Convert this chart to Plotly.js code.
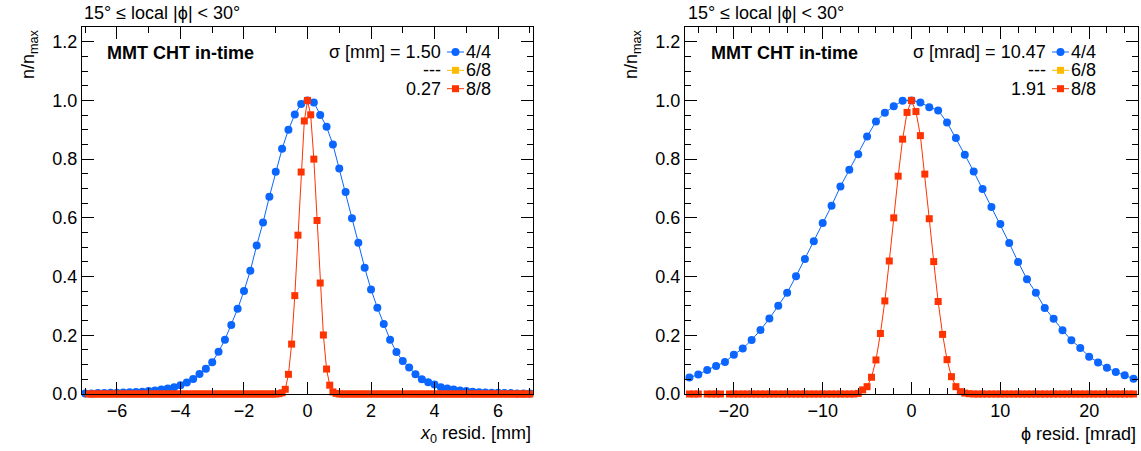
<!DOCTYPE html>
<html>
<head>
<meta charset="utf-8">
<script src="https://cdn.plot.ly/plotly-3.0.1.min.js"></script>
<style>html,body{margin:0;padding:0;background:#fff;}#chart{width:1141px;height:451px;}</style>
</head>
<body>
<div id="chart"></div>
<script>
// ---------- data ----------
const seriesNames = ["4/4", "6/8", "8/8"];
const leftSigmaLabels = ["\u03c3 [mm] = 1.50", "---", "0.27"];
const rightSigmaLabels = ["\u03c3 [mrad] = 10.47", "---", "1.91"];

// Left panel: x0 residual [mm]; 4/4 bins of 0.2 mm starting at -7.0
const leftBlueX0 = -7.0, leftBlueDx = 0.2;
const leftBlueY = [
  0.002, 0.002, 0.003, 0.003, 0.004, 0.004, 0.005, 0.006, 0.007, 0.008,
  0.010, 0.012, 0.015, 0.019, 0.023, 0.030, 0.039, 0.051, 0.068, 0.086,
  0.108, 0.144, 0.185, 0.235, 0.290, 0.351, 0.420, 0.506, 0.584, 0.672,
  0.757, 0.835, 0.900, 0.952, 0.988, 1.000, 0.993, 0.950, 0.910, 0.850,
  0.768, 0.688, 0.599, 0.515, 0.430, 0.356, 0.294, 0.238, 0.185, 0.143,
  0.112, 0.090, 0.067, 0.050, 0.040, 0.032, 0.023, 0.019, 0.015, 0.012,
  0.010, 0.008, 0.006, 0.005, 0.004, 0.004, 0.003, 0.003, 0.002, 0.002,
  0.002
];
// 8/8 bins of 0.1 mm starting at -7.0
const leftRedX0 = -7.0, leftRedDx = 0.1;
const leftRedY = [
  null,
  0, 0, 0, 0, 0, 0, 0, 0, 0, 0,
  0, 0, 0, 0, 0, 0, 0, 0, 0, 0,
  0, 0, 0, 0, 0, 0, 0, 0, 0, 0,
  0, 0, 0, 0, 0, 0, 0, 0, 0, 0,
  0, 0, 0, 0, 0, 0, 0, 0, 0, 0,
  0, 0, 0, 0, 0, 0, 0, 0, 0, 0,
  0.001, 0.004, 0.016, 0.067, 0.170, 0.335, 0.541, 0.756, 0.930,
  1.000,
  0.951, 0.800, 0.591, 0.378, 0.201, 0.085, 0.030, 0.007, 0.002,
  0, 0, 0, 0, 0, 0, 0, 0, 0, 0,
  0, 0, 0, 0, 0, 0, 0, 0, 0, 0,
  0, 0, 0, 0, 0, 0, 0, 0, 0, 0,
  0, 0, 0, 0, 0, 0, 0, 0, 0, 0,
  0, 0, 0, 0, 0, 0, 0, 0, 0, 0,
  0, 0, 0, 0, 0, 0, 0, 0, 0, 0,
  0
];

// Right panel: phi residual [mrad]; 4/4 bins of 1 mrad starting at -25
const rightBlueX0 = -25, rightBlueDx = 1;
const rightBlueY = [
  0.056, 0.066, 0.082, 0.095, 0.109, 0.134, 0.155, 0.184, 0.218, 0.257,
  0.301, 0.345, 0.401, 0.460, 0.520, 0.582, 0.641, 0.707, 0.764, 0.817,
  0.877, 0.928, 0.958, 0.980, 0.999, 1.000, 0.993, 0.977, 0.966, 0.925,
  0.872, 0.815, 0.758, 0.698, 0.637, 0.579, 0.514, 0.450, 0.391, 0.345,
  0.293, 0.256, 0.217, 0.183, 0.157, 0.127, 0.107, 0.089, 0.075, 0.064,
  0.052
];
// 8/8 bins of 0.5 mrad starting at -25
const rightRedX0 = -25, rightRedDx = 0.5;
const rightRedY = [
  0, 0, 0, null, 0, 0, 0, 0, null,
  0, 0, 0, 0, 0, 0, 0, 0, 0, 0,
  0, 0, 0, 0, 0, 0, 0, 0, 0, 0,
  0, 0, 0, 0, 0, 0, 0, 0, 0,
  0.002, 0.014, 0.025, 0.057, 0.116, 0.206, 0.317, 0.453, 0.600, 0.742, 0.868, 0.959,
  1.000,
  0.962, 0.880, 0.749, 0.597, 0.451, 0.315, 0.203, 0.117, 0.059, 0.025, 0.008, 0.003, 0.001,
  0, 0, 0, 0, 0, 0, 0, 0, 0, 0,
  0, 0, 0, 0, 0, 0, 0, 0, 0, 0,
  0, 0, 0, 0, 0, 0, 0, 0, 0, 0,
  0, 0, 0, 0, 0, 0, 0
];

const yTickLabels = ["0.0", "0.2", "0.4", "0.6", "0.8", "1.0", "1.2"];
const yTickVals = [0, 0.2, 0.4, 0.6, 0.8, 1.0, 1.2];

// ---------- styling ----------
const BLUE = "#0a66ff", YELLOW = "#ffbb00", RED = "#ff3300";
const FONT = "Liberation Sans, Arial, Helvetica, sans-serif";
const W = 1141, H = 451;
const px = v => v / W, py = v => 1 - v / H;

function trace(xa, ya, x0, dx, y, color, symbol, size) {
  return {
    type: "scatter", mode: "lines+markers", xaxis: xa, yaxis: ya,
    x0: x0, dx: dx, y: y, cliponaxis: false, showlegend: false,
    line: {color: color, width: 1},
    marker: {color: color, symbol: symbol, size: size, line: {width: 0}}
  };
}

const data = [
  trace("x", "y", leftBlueX0, leftBlueDx, leftBlueY, BLUE, "circle", 8),
  trace("x", "y", leftRedX0, leftRedDx, leftRedY, RED, "square", 7),
  trace("x2", "y2", rightBlueX0, rightBlueDx, rightBlueY, BLUE, "circle", 8),
  trace("x2", "y2", rightRedX0, rightRedDx, rightRedY, RED, "square", 7)
];

function xaxis(domain, range, dtick, minorDtick, anchor) {
  return {
    domain: domain, range: range, anchor: anchor, autorange: false,
    showgrid: false, zeroline: false, showline: true, linecolor: "#000", linewidth: 1,
    mirror: "ticks", ticks: "inside", ticklen: 12, tickwidth: 1, tickcolor: "#000",
    tick0: 0, dtick: dtick,
    minor: {ticks: "inside", ticklen: 6, tickwidth: 1, tickcolor: "#000", dtick: minorDtick, tick0: 0, showgrid: false},
    tickfont: {family: FONT, size: 18, color: "#000"}
  };
}
function yaxis(domain, anchor) {
  return {
    domain: domain, range: [0, 1.25], anchor: anchor, autorange: false,
    showgrid: false, zeroline: false, showline: true, linecolor: "#000", linewidth: 1,
    mirror: "ticks", ticks: "inside", ticklen: 12, tickwidth: 1, tickcolor: "#000",
    tickmode: "array", tickvals: yTickVals, ticktext: yTickLabels,
    minor: {ticks: "inside", ticklen: 6, tickwidth: 1, tickcolor: "#000", dtick: 0.05, tick0: 0, showgrid: false},
    tickfont: {family: FONT, size: 18, color: "#000"}
  };
}

const yDom = [1 - 394 / H, 1 - 27 / H];
const layout = {
  width: W, height: H,
  margin: {l: 0, r: 0, t: 0, b: 0},
  paper_bgcolor: "#fff", plot_bgcolor: "#fff",
  showlegend: false,
  xaxis: xaxis([px(82), px(533)], [-7.1, 7.1], 2, 1, "y"),
  yaxis: yaxis(yDom, "x"),
  xaxis2: xaxis([px(685), px(1138)], [-25.5, 25.5], 10, 2, "y2"),
  yaxis2: yaxis(yDom, "x2"),
  annotations: [],
  shapes: []
};

const ann = (text, x, y, xanchor, opts) => Object.assign({
  text: text, xref: "paper", yref: "paper", x: px(x), y: py(y),
  xanchor: xanchor, yanchor: "middle", showarrow: false,
  font: {family: FONT, size: 18, color: "#000"}
}, opts || {});

const panels = [
  {dx: 0, sig: leftSigmaLabels, frameL: 82, xtitle: "<i>x</i><sub>0</sub> resid. [mm]", xtitleR: 533},
  {dx: 605, sig: rightSigmaLabels, frameL: 686, xtitle: "\u03d5 resid. [mrad]", xtitleR: 1138}
];
const legendColors = [BLUE, YELLOW, RED];
const legendRows = [52, 70.3, 88.7];

panels.forEach((p, k) => {
  layout.annotations.push(ann("15\u00b0 \u2264 local |\u03d5| < 30\u00b0", p.frameL, 13, "left"));
  layout.annotations.push(ann("<b>MMT CHT in-time</b>", p.frameL + 23, 53, "left"));
  layout.annotations.push(ann(p.xtitle, p.xtitleR, 434, "right"));
  layout.annotations.push(ann("n/n<sub>max</sub>", (k === 0 ? 30 : 633), 27, "center",
    {yanchor: "top", textangle: -90}));
  legendRows.forEach((ry, i) => {
    layout.annotations.push(ann(p.sig[i], 443 + p.dx, ry, "right"));
    layout.annotations.push(ann(seriesNames[i], 464 + p.dx, ry, "left"));
    layout.shapes.push({type: "line", xref: "paper", yref: "paper",
      x0: px(447 + p.dx), x1: px(464 + p.dx), y0: py(ry), y1: py(ry),
      line: {color: legendColors[i], width: 1}});
    layout.shapes.push({type: i === 0 ? "circle" : "rect", xref: "paper", yref: "paper",
      xsizemode: "pixel", ysizemode: "pixel",
      xanchor: px(455.5 + p.dx), yanchor: py(ry),
      x0: i === 0 ? -4 : -3.5, x1: i === 0 ? 4 : 3.5, y0: i === 0 ? -4 : -3.5, y1: i === 0 ? 4 : 3.5,
      fillcolor: legendColors[i], line: {width: 0}});
  });
});

Plotly.newPlot("chart", data, layout, {staticPlot: true, displayModeBar: false});
</script>
</body>
</html>
